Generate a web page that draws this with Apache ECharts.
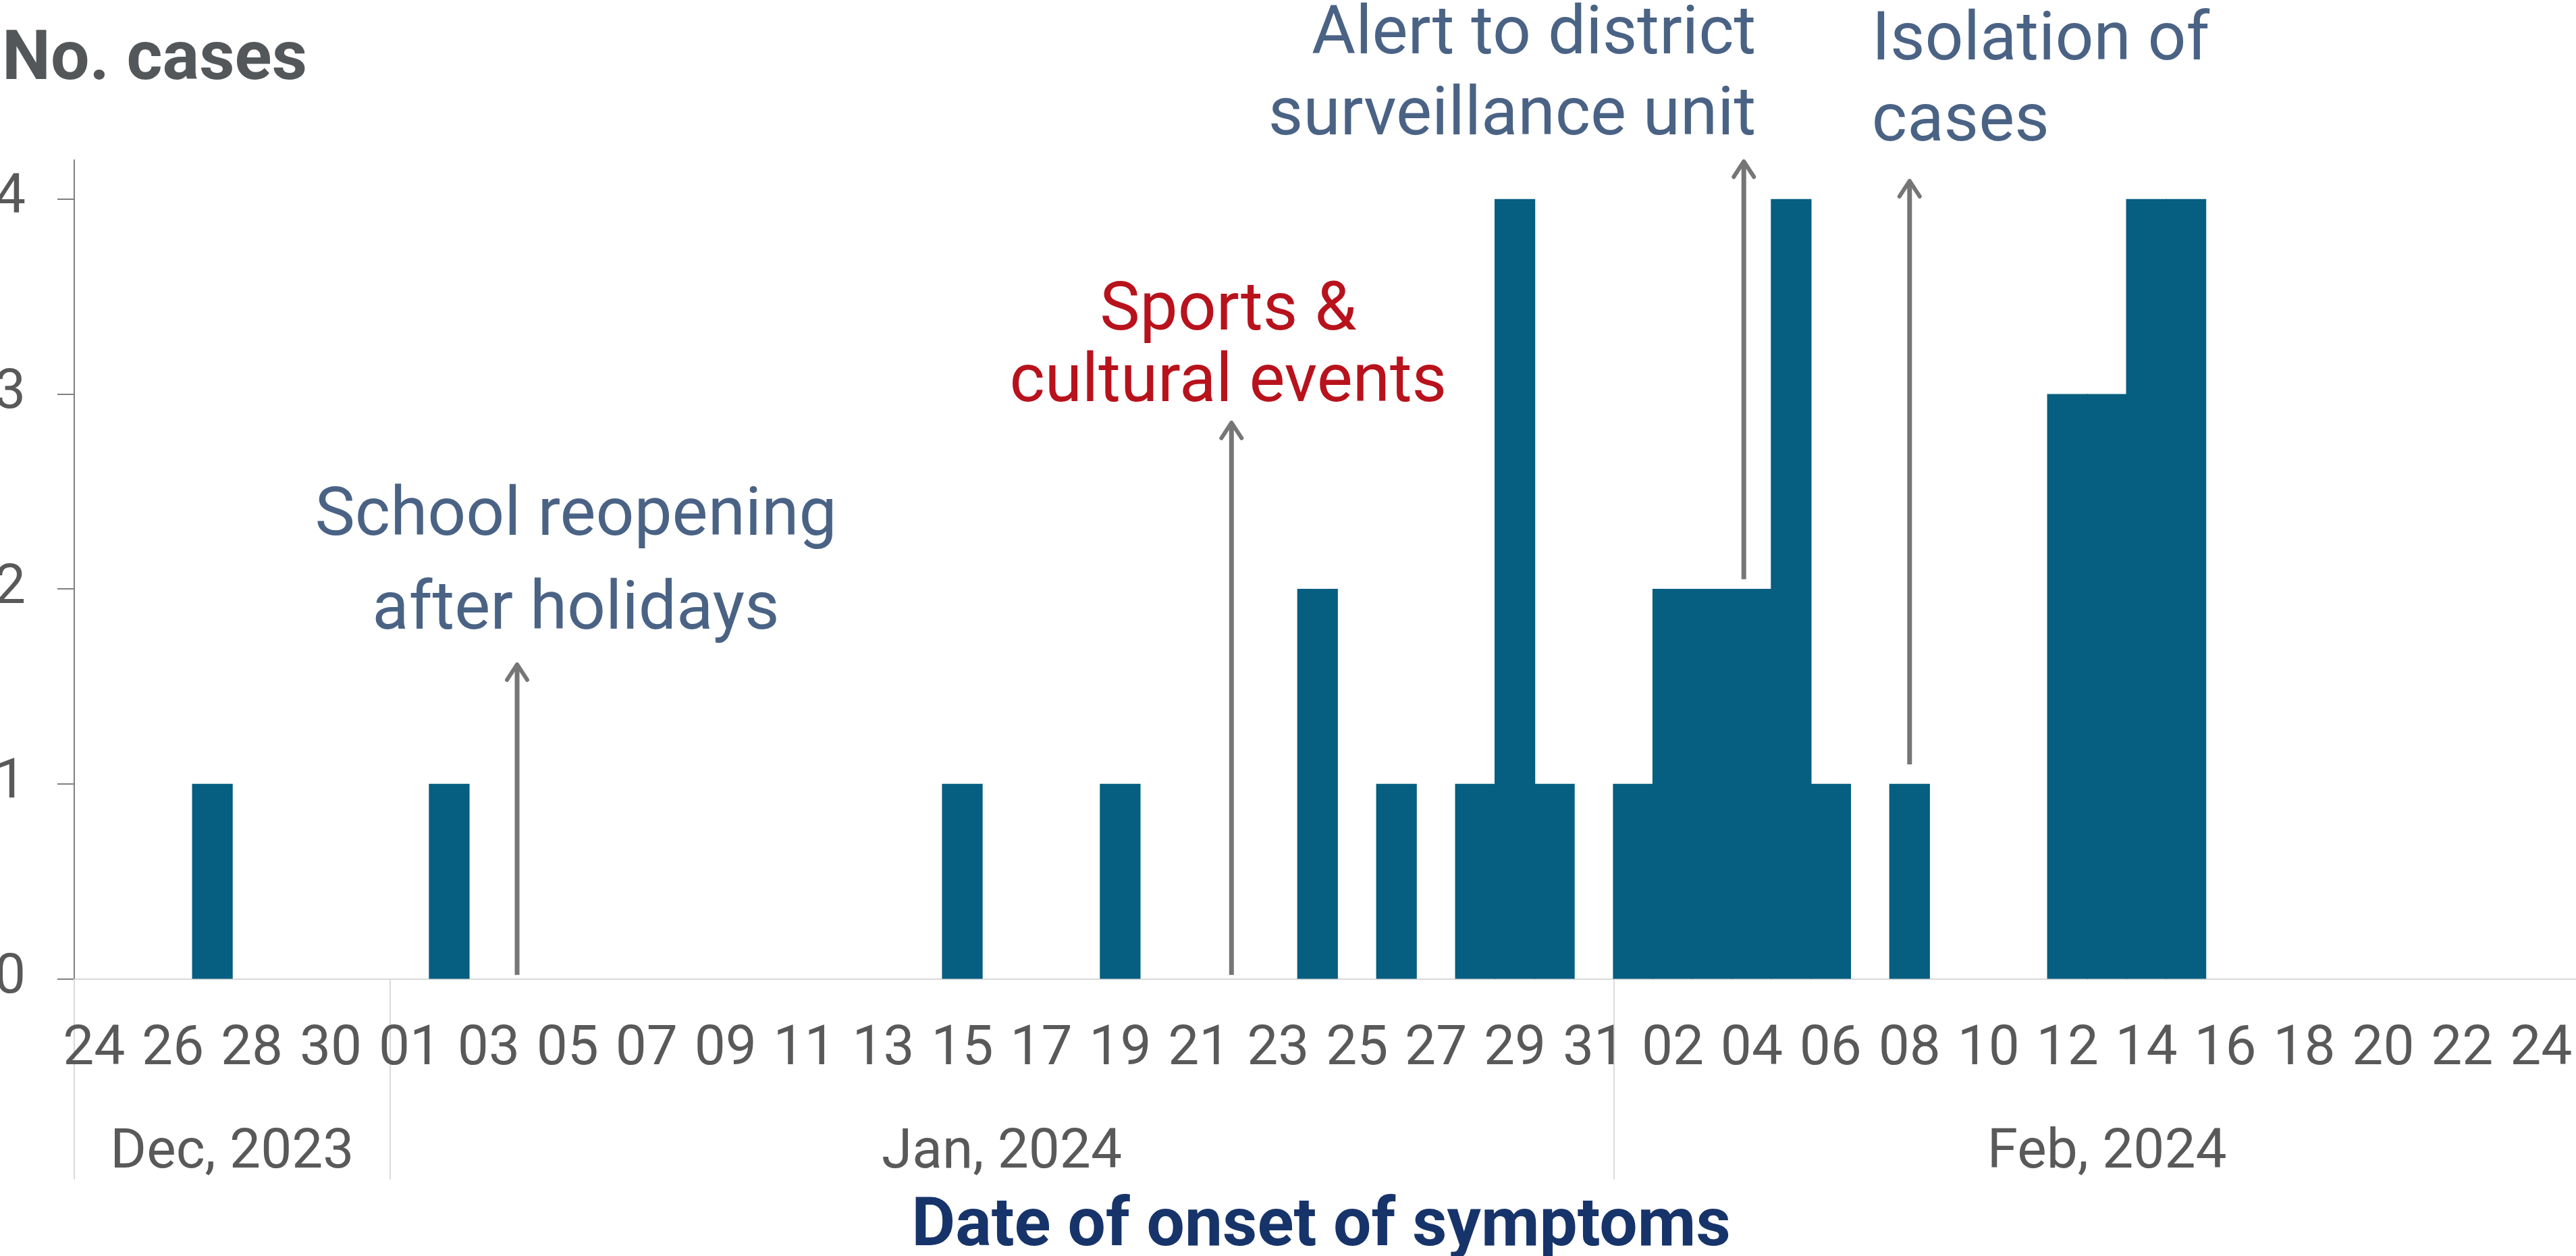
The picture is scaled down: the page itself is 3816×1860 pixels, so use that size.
<!DOCTYPE html>
<html>
<head>
<meta charset="utf-8">
<script src="https://cdn.jsdelivr.net/npm/echarts@6/dist/echarts.min.js"></script>
<style>
html,body{margin:0;padding:0;background:#ffffff;}
#chart{width:3816px;height:1860px;}
</style>
</head>
<body>
<div id="chart"></div>
<script>
// ---------- data ----------
const monthNames = ['Dec, 2023', 'Jan, 2024', 'Feb, 2024'];
const monthAbbr = ['Dec', 'Jan', 'Feb'];
const decDays = ['24','25','26','27','28','29','30','31'];
const janDays = ['01','02','03','04','05','06','07','08','09','10','11','12','13','14','15','16',
                 '17','18','19','20','21','22','23','24','25','26','27','28','29','30','31'];
const febDays = ['01','02','03','04','05','06','07','08','09','10','11','12','13','14','15','16',
                 '17','18','19','20','21','22','23','24','25'];
const casesDec = [0,0,0,1,0,0,0,0];
const casesJan = [0,1, 0,0,0,0,0,0,0,0,0,0,0,0, 1, 0,0,0, 1, 0,0,0,0, 2,0,1,0,1,4,1,0];
const casesFeb = [1,2,2,2,4,1,0,1,0,0,0,3,3,4,4, 0,0,0,0,0,0,0,0,0,0];
const yTicks = [0, 1, 2, 3, 4];
const yMax = 4.2;

// annotations: x position in days from start of axis, arrow from / to (cases)
const annText = ['School reopening\nafter holidays', 'Sports &\ncultural events',
                 'Alert to district\nsurveillance unit', 'Isolation of\ncases'];
const annX    = [11.22, 29.32, 42.30, 46.50];
const annFrom = [0.02, 0.02, 2.05, 1.10];
const annTo   = [1.62, 2.86, 4.20, 4.10];

// ---------- derived ----------
const dayGroups = [decDays, janDays, febDays];
const categories = [];
dayGroups.forEach((g, m) => g.forEach(d => categories.push(monthAbbr[m] + ' ' + d)));
const cases = casesDec.concat(casesJan, casesFeb);
const monthStart = [];
let acc = 0;
dayGroups.forEach(g => { monthStart.push(acc); acc += g.length; });
const nDays = categories.length;
const monthData = monthNames.map((n, i) => [monthStart[i], dayGroups[i].length]);
const annData = annX.map((x, i) => [x, annFrom[i], annTo[i]]);

// ---------- styles ----------
const FONT = 'Roboto, "Noto Sans", "Liberation Sans", sans-serif';
const BAR = '#065e80';
const ARROW = '#767676';
const annStyle = [
  {color: '#4a6385', align: 'center', dx: 87,  dy: -145, lineHeight: 139},
  {color: '#b8121c', align: 'center', dx: -5,  dy: -108, lineHeight: 106},
  {color: '#4a6385', align: 'right',  dx: 18,  dy: -123, lineHeight: 120},
  {color: '#4a6385', align: 'left',   dx: -56, dy: -143, lineHeight: 120}
];

const chart = echarts.init(document.getElementById('chart'), null, {renderer: 'canvas'});
chart.setOption({
  animation: false,
  backgroundColor: '#ffffff',
  title: {
    text: 'No. cases',
    left: 3, top: 40, padding: 0,
    textStyle: {fontFamily: FONT, fontWeight: 700, fontSize: 102, lineHeight: 102, color: '#54575a'}
  },
  grid: {left: 110, top: 237, width: 3742, height: 1212.5, containLabel: false, outerBoundsMode: 'none'},
  xAxis: [{
    type: 'category',
    data: categories,
    boundaryGap: true,
    axisLine: {show: true, lineStyle: {color: '#d9d9d9', width: 2}},
    axisTick: {
      show: true, length: 297, alignWithLabel: false,
      interval: function (idx) { return monthStart.indexOf(idx) >= 0; },
      lineStyle: {color: '#d9d9d9', width: 2}
    },
    axisLabel: {
      interval: 1, margin: 65,
      fontFamily: FONT, fontSize: 82, color: '#595959',
      formatter: v => v.slice(-2)
    },
    splitLine: {show: false},
    name: 'Date of onset of symptoms',
    nameLocation: 'middle',
    nameGap: 319,
    nameTextStyle: {fontFamily: FONT, fontWeight: 700, fontSize: 100, lineHeight: 100,
                    color: '#17346a', padding: [0, 48, 0, 0]}
  }, {
    type: 'value', min: 0, max: nDays, show: false
  }],
  yAxis: [{
    type: 'value', min: 0, max: yMax, interval: 1,
    axisLine: {show: true, lineStyle: {color: '#7f7f7f', width: 2}},
    axisTick: {show: true, length: 25, customValues: yTicks, lineStyle: {color: '#7f7f7f', width: 2}},
    axisLabel: {
      customValues: yTicks, margin: 72,
      fontFamily: FONT, fontSize: 82, color: '#595959',
      formatter: v => (Number.isInteger(v) ? String(v) : '')
    },
    splitLine: {show: false}
  }],
  series: [{
    type: 'bar',
    data: cases,
    xAxisIndex: 0, yAxisIndex: 0,
    barWidth: '103%',
    itemStyle: {color: BAR, borderWidth: 0},
    emphasis: {disabled: true}
  }, {
    type: 'custom',
    xAxisIndex: 1, yAxisIndex: 0,
    data: annData,
    encode: {x: 0, y: [1, 2]},
    clip: false,
    silent: true,
    z: 3,
    renderItem: function (params, api) {
      const i = params.dataIndex;
      const st = annStyle[i];
      const b = api.coord([api.value(0), api.value(1)]);
      const t = api.coord([api.value(0), api.value(2)]);
      return {
        type: 'group',
        children: [
          {type: 'line', shape: {x1: b[0], y1: b[1], x2: t[0], y2: t[1] + 3},
           style: {stroke: ARROW, lineWidth: 7}},
          {type: 'polyline', shape: {points: [[t[0] - 15, t[1] + 25], [t[0], t[1] + 2], [t[0] + 15, t[1] + 25]]},
           style: {stroke: ARROW, lineWidth: 6, fill: null, lineCap: 'round', lineJoin: 'round'}},
          {type: 'text', x: t[0] + st.dx, y: t[1] + st.dy,
           style: {text: annText[i], fill: st.color, fontFamily: FONT, fontSize: 100,
                   lineHeight: st.lineHeight, align: st.align, verticalAlign: 'middle'}}
        ]
      };
    }
  }, {
    type: 'custom',
    xAxisIndex: 1, yAxisIndex: 0,
    data: monthData,
    encode: {x: 0},
    clip: false,
    silent: true,
    renderItem: function (params, api) {
      const i = params.dataIndex;
      const c = api.coord([api.value(0) + api.value(1) / 2, 0]);
      return {
        type: 'text', x: c[0], y: c[1] + 259,
        style: {text: monthNames[i], fill: '#595959', fontFamily: FONT, fontSize: 82,
                align: 'center', verticalAlign: 'middle'}
      };
    }
  }]
});
</script>
</body>
</html>
